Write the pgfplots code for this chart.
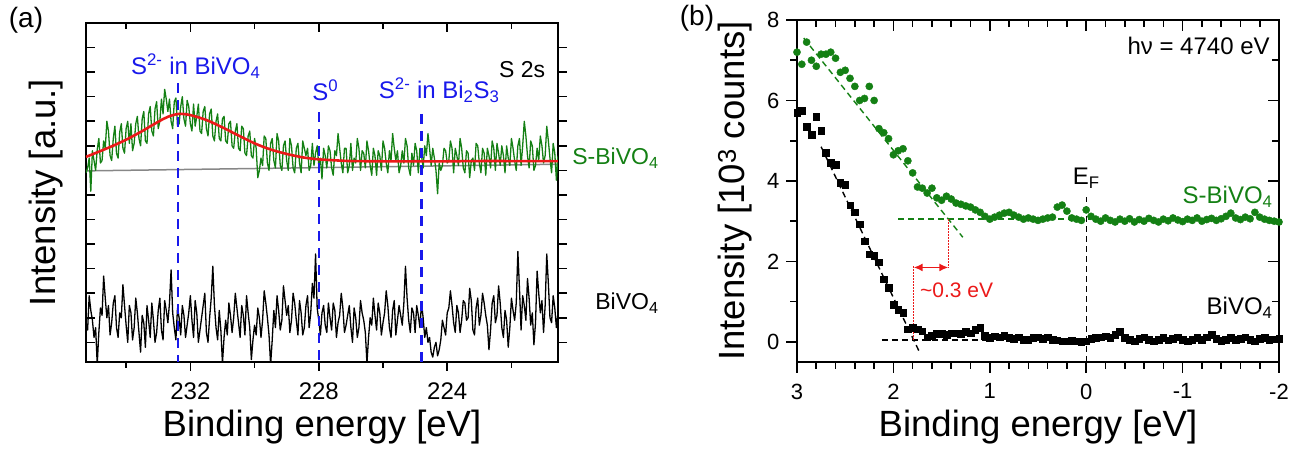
\documentclass[border=0pt]{standalone}
\usepackage{fontspec}
\setmainfont{Liberation Sans}
\usepackage{pgfplots}
\pgfplotsset{compat=1.18}
\usetikzlibrary{arrows.meta}
\definecolor{ogreen}{RGB}{20,128,20}
\definecolor{oblue}{RGB}{25,25,235}
\definecolor{ored}{RGB}{235,25,25}
\definecolor{ogray}{RGB}{135,135,135}
\newcommand{\fs}[1]{\fontsize{#1}{#1}\selectfont}
\begin{document}
\begin{tikzpicture}[x=1pt,y=1pt]
\useasboundingbox (0,0) rectangle (1299,452);
% ---------------- panel (a) ----------------
\begin{axis}[
 at={(86pt,90pt)}, anchor=south west,
 scale only axis, width=472pt, height=339pt,
 x dir=reverse, xmin=220.55, xmax=235.25, ymin=-0.8, ymax=13,
 xtick={224,228,232}, xticklabels={224,228,232},
 minor xtick={222,226,230,234},
 ytick={0,1,...,12}, yticklabels={},
 tick align=center, major tick length=9pt, minor tick length=6pt,
 major x tick style={yshift=-4.5pt}, minor x tick style={yshift=-3pt},
 major y tick style={xshift=4.5pt},
 axis line style={line width=1.8pt},
 every tick/.append style={line width=1.6pt, black},
 tick label style={font=\fs{24}},
 xticklabel style={anchor=north, inner sep=0pt, yshift=-16pt},
 xlabel={Binding energy [eV]}, ylabel={Intensity [a.u.]},
 label style={font=\fs{36.5}},
 xlabel style={at={(axis description cs:0.5,-0.221)}, anchor=base},
 ylabel style={at={(axis description cs:-0.0636,0.5)}, anchor=base},
 clip mode=individual,
]
\addplot[ogray, line width=1.5pt] coordinates {(235.25,6.98) (220.55,7.25)};
\addplot[ogreen, line width=1.3pt, line join=round] coordinates {
(235.25,6.90) (235.2,7.10) (235.15,7.50) (235.1,6.15) (235.05,7.80) (235.0,7.40) (234.95,7.00) (234.9,7.85) (234.85,8.30) (234.8,7.30)
(234.75,7.40) (234.7,8.20) (234.65,7.90) (234.6,9.00) (234.55,8.60) (234.5,7.60) (234.45,7.40) (234.4,8.30) (234.35,8.80) (234.3,7.70)
(234.25,7.50) (234.2,8.55) (234.15,8.90) (234.1,7.90) (234.05,7.70) (234.0,8.70) (233.95,9.00) (233.9,8.10) (233.85,8.90) (233.8,7.80)
(233.75,8.10) (233.7,8.90) (233.65,9.20) (233.6,8.30) (233.55,8.00) (233.5,9.10) (233.45,9.40) (233.4,8.20) (233.35,8.10) (233.3,9.30)
(233.25,9.60) (233.2,8.60) (233.15,8.40) (233.1,9.50) (233.05,9.80) (233.0,8.70) (232.95,9.00) (232.9,9.90) (232.85,9.30) (232.8,10.30)
(232.75,9.90) (232.7,9.40) (232.65,9.90) (232.6,9.00) (232.55,8.70) (232.5,9.80) (232.45,9.95) (232.4,8.80) (232.35,8.90) (232.3,9.60)
(232.25,10.00) (232.2,9.10) (232.15,8.80) (232.1,9.85) (232.05,9.60) (232.0,8.90) (231.95,8.60) (231.9,9.70) (231.85,8.80) (231.8,9.20)
(231.75,9.70) (231.7,8.60) (231.65,8.50) (231.6,9.40) (231.55,9.60) (231.5,8.70) (231.45,8.40) (231.4,9.30) (231.35,9.50) (231.3,8.40)
(231.25,8.20) (231.2,9.00) (231.15,9.30) (231.1,8.30) (231.05,8.20) (231.0,9.10) (230.95,9.20) (230.9,8.20) (230.85,8.10) (230.8,8.90)
(230.75,9.00) (230.7,8.00) (230.65,7.90) (230.6,8.60) (230.55,8.90) (230.5,7.90) (230.45,7.80) (230.4,8.80) (230.35,8.70) (230.3,7.70)
(230.25,7.60) (230.2,8.40) (230.15,8.60) (230.1,7.60) (230.05,7.50) (230.0,8.30) (229.95,7.90) (229.9,6.70) (229.85,7.00) (229.8,7.50)
(229.75,7.20) (229.7,8.40) (229.65,8.30) (229.6,7.30) (229.55,7.00) (229.5,8.10) (229.45,8.30) (229.4,7.40) (229.35,7.10) (229.3,8.50)
(229.25,8.20) (229.2,7.20) (229.15,7.00) (229.1,8.00) (229.05,8.20) (229.0,7.40) (228.95,7.00) (228.9,8.30) (228.85,8.00) (228.8,7.10)
(228.75,6.90) (228.7,7.90) (228.65,8.10) (228.6,7.30) (228.55,6.90) (228.5,8.20) (228.45,7.90) (228.4,7.60) (228.35,7.90) (228.3,7.00)
(228.25,7.20) (228.2,8.10) (228.15,7.20) (228.1,7.70) (228.05,8.00) (228.0,7.20) (227.95,7.50) (227.9,6.65) (227.85,7.90) (227.8,7.60)
(227.75,7.10) (227.7,8.00) (227.65,7.80) (227.6,7.10) (227.55,6.80) (227.5,7.80) (227.45,7.60) (227.4,8.50) (227.35,7.90) (227.3,7.30)
(227.25,6.90) (227.2,7.90) (227.15,7.90) (227.1,6.90) (227.05,7.20) (227.0,8.10) (226.95,7.00) (226.9,7.50) (226.85,7.30) (226.8,8.30)
(226.75,7.90) (226.7,7.00) (226.65,7.80) (226.6,7.70) (226.55,7.10) (226.5,8.20) (226.45,7.80) (226.4,7.20) (226.35,6.80) (226.3,7.90)
(226.25,7.60) (226.2,6.80) (226.15,7.80) (226.1,7.60) (226.05,7.00) (226.0,8.20) (225.95,7.90) (225.9,7.30) (225.85,6.90) (225.8,7.80)
(225.75,7.40) (225.7,8.50) (225.65,7.90) (225.6,7.40) (225.55,7.80) (225.5,6.90) (225.45,7.20) (225.4,7.80) (225.35,7.30) (225.3,8.30)
(225.25,8.00) (225.2,7.10) (225.15,6.80) (225.1,7.70) (225.05,7.20) (225.0,8.10) (224.95,7.80) (224.9,6.90) (224.85,7.90) (224.8,7.60)
(224.75,7.10) (224.7,8.00) (224.65,7.60) (224.6,8.50) (224.55,7.90) (224.5,7.20) (224.45,7.90) (224.4,7.50) (224.35,7.00) (224.3,6.05)
(224.25,7.30) (224.2,7.00) (224.15,7.20) (224.1,7.90) (224.05,7.80) (224.0,7.30) (223.95,7.40) (223.9,8.20) (223.85,7.90) (223.8,6.90)
(223.75,7.90) (223.7,7.60) (223.65,7.20) (223.6,8.30) (223.55,7.90) (223.5,7.10) (223.45,6.90) (223.4,7.80) (223.35,7.70) (223.3,6.70)
(223.25,7.40) (223.2,7.50) (223.15,7.00) (223.1,8.10) (223.05,8.00) (223.0,7.30) (222.95,6.90) (222.9,7.90) (222.85,7.70) (222.8,6.80)
(222.75,7.90) (222.7,7.60) (222.65,7.10) (222.6,8.20) (222.55,7.90) (222.5,7.00) (222.45,8.10) (222.4,7.70) (222.35,7.20) (222.3,8.00)
(222.25,7.60) (222.2,6.90) (222.15,8.00) (222.1,7.50) (222.05,7.20) (222.0,8.30) (221.95,7.90) (221.9,7.40) (221.85,7.00) (221.8,8.00)
(221.75,8.30) (221.7,7.20) (221.65,8.00) (221.6,9.00) (221.55,8.40) (221.5,7.60) (221.45,7.10) (221.4,8.20) (221.35,8.00) (221.3,7.00)
(221.25,7.20) (221.2,7.90) (221.15,7.40) (221.1,8.40) (221.05,8.00) (221.0,7.30) (220.95,7.60) (220.9,8.80) (220.85,8.20) (220.8,7.50)
(220.75,6.90) (220.7,8.10) (220.65,7.70) (220.6,6.60) (220.55,7.60)};
\addplot[ored, line width=2.6pt, smooth] coordinates {
(235.25,7.55) (234.5,7.95) (234.0,8.25) (233.5,8.60) (233.0,8.98) (232.7,9.18) (232.36,9.30) (232.0,9.25) (231.5,9.05)
(231.0,8.75) (230.5,8.42) (230.0,8.10) (229.5,7.85) (229.0,7.67) (228.5,7.53) (228.0,7.45) (227.5,7.41) (227.0,7.38)
(226.0,7.37) (225.0,7.37) (224.0,7.37) (223.0,7.38) (222.0,7.38) (221.0,7.38) (220.55,7.38)};
\addplot[black, line width=1.3pt, line join=round] coordinates {
(235.25,0.60) (235.2,0.50) (235.15,1.90) (235.1,1.30) (235.05,0.90) (235.0,0.20) (234.95,0.60) (234.9,-0.90) (234.85,0.40) (234.8,1.40)
(234.75,1.10) (234.7,2.70) (234.65,1.80) (234.6,1.00) (234.55,1.50) (234.5,0.30) (234.45,0.80) (234.4,1.60) (234.35,1.90) (234.3,0.60)
(234.25,0.20) (234.2,1.20) (234.15,1.00) (234.1,2.35) (234.05,1.50) (234.0,0.70) (233.95,0.00) (233.9,1.50) (233.85,1.20) (233.8,0.10)
(233.75,0.60) (233.7,1.80) (233.65,1.20) (233.6,0.40) (233.55,-0.40) (233.5,1.10) (233.45,0.80) (233.4,-0.20) (233.35,1.50) (233.3,0.90)
(233.25,0.20) (233.2,1.60) (233.15,0.90) (233.1,0.00) (233.05,0.40) (233.0,1.30) (232.95,1.80) (232.9,0.50) (232.85,0.10) (232.8,1.70)
(232.75,1.30) (232.7,0.80) (232.65,1.60) (232.6,2.95) (232.55,1.20) (232.5,0.60) (232.45,0.10) (232.4,1.40) (232.35,1.00) (232.3,0.30)
(232.25,1.50) (232.2,1.10) (232.15,0.20) (232.1,0.70) (232.05,1.20) (232.0,1.90) (231.95,0.90) (231.9,0.20) (231.85,1.70) (231.8,1.20)
(231.75,0.00) (231.7,0.50) (231.65,1.00) (231.6,1.50) (231.55,2.00) (231.5,0.40) (231.45,0.00) (231.4,1.00) (231.35,1.80) (231.3,3.10)
(231.25,1.50) (231.2,0.60) (231.15,0.10) (231.1,1.30) (231.05,0.50) (231.0,-0.85) (230.95,0.20) (230.9,0.90) (230.85,0.30) (230.8,1.60)
(230.75,1.10) (230.7,0.40) (230.65,1.00) (230.6,2.00) (230.55,1.40) (230.5,0.80) (230.45,0.20) (230.4,1.50) (230.35,1.10) (230.3,0.30)
(230.25,1.90) (230.2,1.20) (230.15,0.60) (230.1,-0.70) (230.05,0.10) (230.0,0.70) (229.95,0.30) (229.9,1.40) (229.85,1.00) (229.8,0.20)
(229.75,0.90) (229.7,2.10) (229.65,1.60) (229.6,1.00) (229.55,0.30) (229.5,-0.90) (229.45,0.10) (229.4,1.30) (229.35,0.60) (229.3,1.90)
(229.25,1.30) (229.2,0.50) (229.15,0.90) (229.1,2.30) (229.05,1.70) (229.0,1.10) (228.95,1.50) (228.9,0.40) (228.85,0.90) (228.8,2.00)
(228.75,1.60) (228.7,0.90) (228.65,0.30) (228.6,1.70) (228.55,1.20) (228.5,0.30) (228.45,0.60) (228.4,1.50) (228.35,1.90) (228.3,0.60)
(228.25,1.20) (228.2,2.40) (228.15,1.80) (228.1,3.60) (228.05,1.40) (228.0,0.90) (227.95,0.30) (227.9,1.20) (227.85,1.50) (227.8,0.70)
(227.75,0.40) (227.7,1.60) (227.65,1.00) (227.6,0.50) (227.55,1.60) (227.5,1.30) (227.45,0.20) (227.4,0.80) (227.35,1.10) (227.3,2.00)
(227.25,1.40) (227.2,0.40) (227.15,0.70) (227.1,1.10) (227.05,1.50) (227.0,0.60) (226.95,0.00) (226.9,1.40) (226.85,1.00) (226.8,0.20)
(226.75,0.60) (226.7,1.70) (226.65,1.20) (226.6,0.90) (226.55,0.40) (226.5,-0.85) (226.45,0.20) (226.4,1.00) (226.35,0.70) (226.3,1.80)
(226.25,1.10) (226.2,0.50) (226.15,1.60) (226.1,1.20) (226.05,0.30) (226.0,0.80) (225.95,1.20) (225.9,2.10) (225.85,1.50) (225.8,0.60)
(225.75,0.20) (225.7,1.30) (225.65,1.70) (225.6,0.30) (225.55,0.90) (225.5,1.50) (225.45,1.10) (225.4,0.70) (225.35,1.60) (225.3,3.10)
(225.25,1.80) (225.2,0.90) (225.15,0.40) (225.1,1.40) (225.05,1.20) (225.0,0.40) (224.95,1.50) (224.9,1.10) (224.85,0.60) (224.8,1.60)
(224.75,1.00) (224.7,0.20) (224.65,0.60) (224.6,0.00) (224.55,0.20) (224.5,-0.40) (224.45,-0.60) (224.4,-0.20) (224.35,0.00) (224.3,-0.55)
(224.25,-0.30) (224.2,0.10) (224.15,0.90) (224.1,0.60) (224.05,0.30) (224.0,1.20) (223.95,1.40) (223.9,2.10) (223.85,1.50) (223.8,0.80)
(223.75,0.40) (223.7,1.50) (223.65,1.20) (223.6,0.40) (223.55,0.90) (223.5,1.70) (223.45,1.60) (223.4,0.90) (223.35,1.00) (223.3,2.20)
(223.25,1.70) (223.2,0.50) (223.15,0.30) (223.1,1.40) (223.05,1.80) (223.0,0.70) (222.95,1.10) (222.9,2.00) (222.85,1.60) (222.8,1.10)
(222.75,0.70) (222.7,-0.30) (222.65,0.50) (222.6,1.60) (222.55,1.90) (222.5,0.80) (222.45,1.10) (222.4,2.30) (222.35,1.60) (222.3,0.60)
(222.25,0.20) (222.2,1.30) (222.15,0.90) (222.1,-0.20) (222.05,0.60) (222.0,1.80) (221.95,1.30) (221.9,0.90) (221.85,1.60) (221.8,3.70)
(221.75,2.20) (221.7,0.50) (221.65,1.90) (221.6,1.50) (221.55,0.90) (221.5,2.60) (221.45,1.80) (221.4,0.70) (221.35,1.20) (221.3,-0.10)
(221.25,0.80) (221.2,2.90) (221.15,2.00) (221.1,1.20) (221.05,1.70) (221.0,0.40) (220.95,1.50) (220.9,3.60) (220.85,2.40) (220.8,1.00)
(220.75,0.80) (220.7,1.90) (220.65,1.40) (220.6,0.60) (220.55,1.20)};
\addplot[oblue, line width=2.3pt, dash pattern=on 10pt off 7pt] coordinates {(232.38,10.55) (232.38,-0.8)};
\addplot[oblue, line width=2.3pt, dash pattern=on 10pt off 7pt] coordinates {(228.0,9.36) (228.0,-0.8)};
\addplot[oblue, line width=2.3pt, dash pattern=on 10pt off 7pt] coordinates {(224.8,9.30) (224.8,-0.8)};
\node[oblue, font=\fs{24}] at (231.83,11.24) {S\textsuperscript{2-} in BiVO\textsubscript{4}};
\node[oblue, font=\fs{24}] at (227.8,10.26) {S\textsuperscript{0}};
\node[oblue, font=\fs{24}] at (224.25,10.26) {S\textsuperscript{2-} in Bi\textsubscript{2}S\textsubscript{3}};
\node[black, font=\fs{23}, anchor=east] at (220.84,11.1) {S 2s};
\node[ogreen, font=\fs{23}, anchor=east] at (217.31,7.5) {S-BiVO\textsubscript{4}};
\node[black, font=\fs{23}, anchor=east] at (217.31,1.6) {BiVO\textsubscript{4}};
\end{axis}
% ---------------- panel (b) ----------------
\begin{axis}[
 at={(797pt,90pt)}, anchor=south west,
 scale only axis, width=482pt, height=342pt,
 x dir=reverse, xmin=-2, xmax=3, ymin=-0.5, ymax=8,
 xtick={-2,-1,0,1,2,3}, xticklabels={-2,-1,0,1,2,3},
 minor x tick num=4,
 ytick={0,2,4,6,8}, yticklabels={0,2,4,6,8},
 minor y tick num=1,
 tick align=center, major tick length=11pt, minor tick length=7pt,
 major x tick style={yshift=-5.5pt}, minor x tick style={yshift=-3.5pt},
 major y tick style={xshift=-5.5pt}, minor y tick style={xshift=-3.5pt},
 axis line style={line width=1.8pt},
 every tick/.append style={line width=1.6pt, black},
 tick label style={font=\fs{22}},
 xticklabel style={anchor=north, inner sep=0pt, yshift=-16pt},
 yticklabel style={anchor=east, inner sep=0pt, xshift=-12pt},
 xlabel={Binding energy [eV]}, ylabel={Intensity [10\textsuperscript{3} counts]},
 label style={font=\fs{36.5}},
 xlabel style={at={(axis description cs:0.5,-0.219)}, anchor=base},
 ylabel style={at={(axis description cs:-0.108,0.5)}, anchor=base},
 clip mode=individual,
]
\addplot[ogreen, line width=1.4pt, dash pattern=on 6pt off 4pt] coordinates {(2.93,7.55) (1.28,2.6)};
\addplot[ogreen, line width=1.4pt, dash pattern=on 6pt off 4pt] coordinates {(1.95,3.05) (-0.05,3.05)};
\addplot[black, line width=1.4pt, dash pattern=on 6pt off 4pt] coordinates {(2.75,4.85) (1.72,-0.30)};
\addplot[black, line width=1.4pt, dash pattern=on 6pt off 4pt] coordinates {(2.12,0.05) (1.0,0.05)};
\addplot[black, line width=1.4pt, dash pattern=on 6pt off 4pt] coordinates {(0,-0.5) (0,3.6)};
\addplot[ored, line width=1.2pt, dash pattern=on 1.5pt off 1.5pt] coordinates {(1.79,0.05) (1.79,1.9)};
\addplot[ored, line width=1.2pt, dash pattern=on 1.5pt off 1.5pt] coordinates {(1.43,3.05) (1.43,1.85)};
\addplot[ored, line width=1.6pt, {Latex[length=9pt,width=8pt]}-{Latex[length=9pt,width=8pt]}] coordinates {(1.79,1.85) (1.43,1.85)};
\addplot[ogreen, only marks, mark=*, mark size=3.6pt] coordinates {
(3.00,7.20) (2.95,6.90) (2.90,7.45) (2.85,7.00) (2.80,6.85) (2.75,7.15) (2.70,7.15) (2.65,7.20) (2.60,7.05) (2.55,6.70)
(2.50,6.75) (2.45,6.55) (2.40,6.35) (2.35,6.00) (2.30,6.05) (2.25,6.35) (2.20,6.00) (2.15,5.30) (2.10,5.20) (2.05,5.05)
(2.00,4.65) (1.95,4.75) (1.90,4.80) (1.85,4.50) (1.80,4.20) (1.75,3.85) (1.70,3.82) (1.65,3.70) (1.60,3.82) (1.55,3.58)
(1.50,3.52) (1.45,3.62) (1.40,3.55) (1.35,3.45) (1.30,3.42) (1.25,3.38) (1.20,3.35) (1.15,3.28) (1.10,3.22) (1.05,3.12)
(1.00,3.05) (0.95,3.10) (0.90,3.15) (0.85,3.20) (0.80,3.22) (0.75,3.15) (0.70,3.10) (0.65,3.05) (0.60,3.08) (0.55,3.05)
(0.50,3.02) (0.45,3.05) (0.40,3.08) (0.35,3.10) (0.30,3.35) (0.25,3.40) (0.20,3.25) (0.15,3.08) (0.10,3.05) (0.05,3.02)
(0.00,3.28) (-0.05,3.12) (-0.10,3.05) (-0.15,3.00) (-0.20,3.08) (-0.25,3.02) (-0.30,2.98) (-0.35,3.05) (-0.40,3.00) (-0.45,3.06)
(-0.50,2.98) (-0.55,3.04) (-0.60,3.00) (-0.65,3.07) (-0.70,3.02) (-0.75,2.98) (-0.80,3.05) (-0.85,3.01) (-0.90,3.08) (-0.95,3.03)
(-1.00,2.99) (-1.05,3.05) (-1.10,3.02) (-1.15,3.08) (-1.20,3.00) (-1.25,3.04) (-1.30,3.07) (-1.35,3.02) (-1.40,3.06) (-1.45,3.12)
(-1.50,3.20) (-1.55,3.08) (-1.60,3.04) (-1.65,3.10) (-1.70,3.06) (-1.75,3.22) (-1.80,3.10) (-1.85,3.05) (-1.90,3.02) (-1.95,3.00)
(-2.00,2.98)};
\addplot[black, only marks, mark=square*, mark size=3.3pt] coordinates {
(3.00,5.70) (2.95,5.75) (2.90,5.35) (2.85,5.15) (2.80,5.60) (2.75,5.25) (2.70,4.70) (2.65,4.45) (2.60,4.40) (2.55,3.95)
(2.50,3.90) (2.45,3.40) (2.40,3.22) (2.35,2.92) (2.30,2.50) (2.25,2.18) (2.20,2.14) (2.15,1.98) (2.10,1.56) (2.05,1.35)
(2.00,0.93) (1.95,0.80) (1.90,0.72) (1.85,0.32) (1.80,0.35) (1.75,0.32) (1.70,0.27) (1.65,0.12) (1.60,0.15) (1.55,0.20)
(1.50,0.20) (1.45,0.18) (1.40,0.22) (1.35,0.22) (1.30,0.20) (1.25,0.25) (1.20,0.22) (1.15,0.30) (1.10,0.35) (1.05,0.15)
(1.00,0.10) (0.95,0.14) (0.90,0.12) (0.85,0.16) (0.80,0.10) (0.75,0.08) (0.70,0.12) (0.65,0.06) (0.60,0.05) (0.55,0.10)
(0.50,0.12) (0.45,0.08) (0.40,0.12) (0.35,0.06) (0.30,0.04) (0.25,0.02) (0.20,0.02) (0.15,0.03) (0.10,0.02) (0.05,0.01)
(0.00,0.02) (-0.05,0.08) (-0.10,0.10) (-0.15,0.12) (-0.20,0.14) (-0.25,0.10) (-0.30,0.18) (-0.35,0.26) (-0.40,0.10) (-0.45,0.05)
(-0.50,0.02) (-0.55,0.08) (-0.60,0.12) (-0.65,0.05) (-0.70,0.02) (-0.75,0.06) (-0.80,0.10) (-0.85,0.04) (-0.90,0.08) (-0.95,0.12)
(-1.00,0.06) (-1.05,0.02) (-1.10,0.05) (-1.15,0.10) (-1.20,0.06) (-1.25,0.12) (-1.30,0.18) (-1.35,0.08) (-1.40,0.03) (-1.45,0.06)
(-1.50,0.10) (-1.55,0.05) (-1.60,0.08) (-1.65,0.12) (-1.70,0.06) (-1.75,0.02) (-1.80,0.08) (-1.85,0.10) (-1.90,0.05) (-1.95,0.07)
(-2.00,0.08)};
\node[black, font=\fs{24}, anchor=east] at (-1.94,7.35) {hν = 4740 eV};
\node[ogreen, font=\fs{24}, anchor=east] at (-1.97,3.6) {S-BiVO\textsubscript{4}};
\node[black, font=\fs{24}, anchor=east] at (-1.97,0.85) {BiVO\textsubscript{4}};
\node[black, font=\fs{24}] at (0,4.07) {E\textsubscript{F}};
\node[ored, font=\fs{21}, anchor=west] at (1.76,1.29) {\textasciitilde0.3 eV};
\end{axis}
\node[font=\fs{28}] at (26,432) {(a)};
\node[font=\fs{28}] at (697,434) {(b)};
\end{tikzpicture}
\end{document}
